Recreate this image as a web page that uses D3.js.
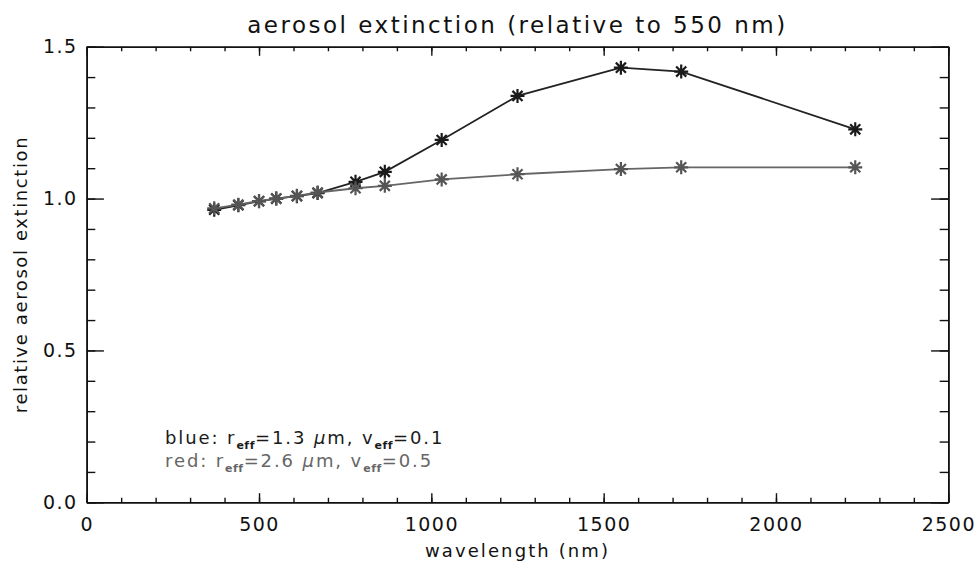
<!DOCTYPE html>
<html>
<head>
<meta charset="utf-8">
<script src="https://cdn.jsdelivr.net/npm/d3@7"></script>
<style>
  body { margin: 0; background: #fff; }
  text { font-family: "DejaVu Sans", sans-serif; }
</style>
</head>
<body>
<svg id="chart" width="976" height="563"></svg>
<script>
// wavelengths (nm) and extinction relative to 550 nm
const wavelengths = [370, 440, 500, 550, 610, 670, 780, 865, 1030, 1250, 1550, 1725, 2230];
const blueVals = [0.963, 0.978, 0.991, 1.0, 1.008, 1.018, 1.055, 1.088, 1.193, 1.338, 1.431, 1.418, 1.228];
const redVals = [0.968, 0.980, 0.992, 1.0, 1.009, 1.020, 1.034, 1.042, 1.063, 1.080, 1.097, 1.103, 1.103];
const xTicks = [0, 500, 1000, 1500, 2000, 2500];
const yTicks = [0.0, 0.5, 1.0, 1.5];

const svg = d3.select("#chart");
const margin = { top: 46.7, right: 27.7, bottom: 60.7, left: 86.7 };
const width = +svg.attr("width"),
  height = +svg.attr("height");

const x = d3.scaleLinear().domain([0, 2500]).range([margin.left, width - margin.right]);
const y = d3.scaleLinear().domain([0, 1.5]).range([height - margin.bottom, margin.top]);

const pw = x.range()[1] - x.range()[0];
const ph = y.range()[0] - y.range()[1];
const xMajor = 0.02 * ph, yMajor = 0.02 * pw;

const fmtY = d3.format(".1f");
const fontTick = 19;

// bottom axis
svg.append("g")
  .attr("transform", `translate(0,${y(0)})`)
  .call(d3.axisBottom(x).tickValues(xTicks).tickSizeInner(-xMajor).tickSizeOuter(0).tickPadding(15).tickFormat(d3.format("d")));
svg.append("g")
  .attr("transform", `translate(0,${y(0)})`)
  .call(d3.axisBottom(x).tickValues(d3.range(0, 2501, 100)).tickSizeInner(-xMajor / 2).tickSizeOuter(0).tickFormat(""));
// top axis
svg.append("g")
  .attr("transform", `translate(0,${y(1.5)})`)
  .call(d3.axisTop(x).tickValues(xTicks).tickSizeInner(-xMajor).tickSizeOuter(0).tickFormat(""));
svg.append("g")
  .attr("transform", `translate(0,${y(1.5)})`)
  .call(d3.axisTop(x).tickValues(d3.range(0, 2501, 100)).tickSizeInner(-xMajor / 2).tickSizeOuter(0).tickFormat(""));
// left axis
svg.append("g")
  .attr("class", "yaxis")
  .attr("transform", `translate(${x(0)},0)`)
  .call(d3.axisLeft(y).tickValues(yTicks).tickSizeInner(-yMajor).tickSizeOuter(0).tickPadding(8).tickFormat(fmtY));
svg.append("g")
  .attr("transform", `translate(${x(0)},0)`)
  .call(d3.axisLeft(y).tickValues(d3.range(0, 16).map((i) => i / 10)).tickSizeInner(-yMajor / 2).tickSizeOuter(0).tickFormat(""));
// right axis
svg.append("g")
  .attr("transform", `translate(${x(2500)},0)`)
  .call(d3.axisRight(y).tickValues(yTicks).tickSizeInner(-yMajor).tickSizeOuter(0).tickFormat(""));
svg.append("g")
  .attr("transform", `translate(${x(2500)},0)`)
  .call(d3.axisRight(y).tickValues(d3.range(0, 16).map((i) => i / 10)).tickSizeInner(-yMajor / 2).tickSizeOuter(0).tickFormat(""));

svg.selectAll(".domain").attr("stroke", "#111").attr("stroke-width", 1.6);
svg.selectAll(".tick line").attr("stroke", "#111").attr("stroke-width", 1.4);
svg.selectAll(".tick text")
  .attr("font-family", "DejaVu Sans, sans-serif")
  .attr("font-size", fontTick)
  .attr("letter-spacing", 1.5)
  .attr("fill", "#111");
svg.selectAll(".yaxis .tick text").attr("dx", -1);

// title and axis labels
svg.append("text")
  .attr("x", (x(0) + x(2500)) / 2)
  .attr("y", 33)
  .attr("text-anchor", "middle")
  .attr("font-size", 23)
  .attr("letter-spacing", 2.5)
  .attr("fill", "#111")
  .text("aerosol extinction (relative to 550 nm)");

svg.append("text")
  .attr("x", (x(0) + x(2500)) / 2)
  .attr("y", 557)
  .attr("text-anchor", "middle")
  .attr("font-size", 18)
  .attr("letter-spacing", 2.1)
  .attr("fill", "#111")
  .text("wavelength (nm)");

svg.append("text")
  .attr("transform", `translate(27,${(y(0) + y(1.5)) / 2}) rotate(-90)`)
  .attr("text-anchor", "middle")
  .attr("font-size", 18)
  .attr("letter-spacing", 1.6)
  .attr("fill", "#111")
  .text("relative aerosol extinction");

// series (blue drawn first, red over it)
const series = [
  { vals: blueVals, line: "#222", mark: "#1a1a1a" },
  { vals: redVals, line: "#666", mark: "#555" },
];

const line = d3.line()
  .x((d) => x(d[0]))
  .y((d) => y(d[1]));

const r = 7;
const k = r * 0.72;
const star = `M${-r},0H${r}M0,${-r}V${r}M${-k},${-k}L${k},${k}M${-k},${k}L${k},${-k}`;

series.forEach((s) => {
  const pts = wavelengths.map((w, i) => [w, s.vals[i]]);
  svg.append("path")
    .datum(pts)
    .attr("fill", "none")
    .attr("stroke", s.line)
    .attr("stroke-width", 1.8)
    .attr("d", line);
  svg.append("g")
    .selectAll("path")
    .data(pts)
    .join("path")
    .attr("transform", (d) => `translate(${x(d[0])},${y(d[1])})`)
    .attr("d", star)
    .attr("fill", "none")
    .attr("stroke", s.mark)
    .attr("stroke-width", 2.2);
});

// legend
const legend = [
  { label: "blue", r: "1.3", v: "0.1", color: "#1a1a1a" },
  { label: "red", r: "2.6", v: "0.5", color: "#666" },
];
legend.forEach((l, i) => {
  const t = svg.append("text")
    .attr("x", 165)
    .attr("y", 444 + i * 23)
    .attr("font-size", 18)
    .attr("letter-spacing", 1.9)
    .attr("fill", l.color);
  t.append("tspan").text(`${l.label}: r`);
  t.append("tspan").attr("dy", 5).attr("font-size", 11).attr("letter-spacing", 0.5).attr("font-weight", "bold").text("eff");
  t.append("tspan").attr("dy", -5).text(`=${l.r} `);
  t.append("tspan").attr("font-style", "italic").text("μ");
  t.append("tspan").text("m, v");
  t.append("tspan").attr("dy", 5).attr("font-size", 11).attr("letter-spacing", 0.5).attr("font-weight", "bold").text("eff");
  t.append("tspan").attr("dy", -5).text(`=${l.v}`);
});
</script>
</body>
</html>
